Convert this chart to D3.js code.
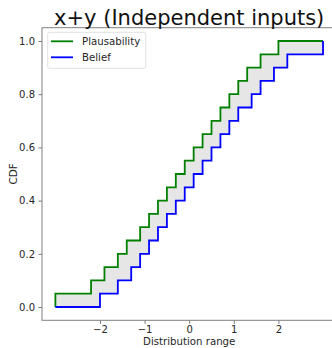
<!DOCTYPE html>
<html>
<head>
<meta charset="utf-8">
<script src="https://cdn.jsdelivr.net/npm/d3@7"></script>
<style>
  body { margin: 0; background: #fff; }
  svg { display: block; font-family: "DejaVu Sans", sans-serif; }
</style>
</head>
<body>
<svg width="332" height="348"></svg>
<script>
// Step positions (x where the CDF jumps) and the level after each jump
var plausX = [-3.0, -2.2, -1.9, -1.6, -1.4, -1.1, -0.9, -0.7, -0.5, -0.3, -0.1, 0.1, 0.3, 0.5, 0.7, 0.9, 1.1, 1.3, 1.6, 2.0, 3.0];
var plausY = [0.05, 0.10, 0.15, 0.20, 0.25, 0.30, 0.35, 0.40, 0.45, 0.50, 0.55, 0.60, 0.65, 0.70, 0.75, 0.80, 0.85, 0.90, 0.95, 1.00, 1.00];
var beliefX = [-2.0, -1.6, -1.3, -1.1, -0.9, -0.7, -0.5, -0.3, -0.1, 0.1, 0.3, 0.5, 0.7, 0.9, 1.1, 1.4, 1.6, 1.9, 2.2, 3.0];
var beliefY = [0.05, 0.10, 0.15, 0.20, 0.25, 0.30, 0.35, 0.40, 0.45, 0.50, 0.55, 0.60, 0.65, 0.70, 0.75, 0.80, 0.85, 0.90, 0.95, 1.00];
var startX = -3.0;
var xTicks = [-2, -1, 0, 1, 2];
var yTicks = [0, 0.2, 0.4, 0.6, 0.8, 1.0];

var svg = d3.select('svg');

// plot area (right spine falls just outside the picture)
var plot = {l: 42, r: 336.4, t: 27.7, b: 320.3};

var x = d3.scaleLinear().domain([-3.3, 3.3]).range([plot.l, plot.r]);
var y = d3.scaleLinear().domain([-0.05, 1.05]).range([plot.b, plot.t]);

// build point lists, both start at 0 on the left edge
var plaus = [[startX, 0]].concat(plausX.map(function(d, i) { return [d, plausY[i]]; }));
var belief = [[startX, 0]].concat(beliefX.map(function(d, i) { return [d, beliefY[i]]; }));

// expand step-after corners for the fill polygon
function corners(pts) {
    var out = [pts[0]];
    for (var i = 1; i < pts.length; i++) {
        out.push([pts[i][0], pts[i - 1][1]]);
        out.push(pts[i]);
    }
    return out;
}

var lineLin = d3.line()
    .x(function(d) { return x(d[0]); })
    .y(function(d) { return y(d[1]); });

var lineStep = d3.line()
    .x(function(d) { return x(d[0]); })
    .y(function(d) { return y(d[1]); })
    .curve(d3.curveStepAfter);

var poly = corners(plaus).concat(corners(belief).reverse());

svg.append('path')
    .attr('d', lineLin(poly) + 'Z')
    .attr('fill', '#e6e6e6')
    .attr('stroke', 'none');

svg.append('path')
    .attr('d', lineStep(plaus))
    .attr('fill', 'none')
    .attr('stroke', '#008000')
    .attr('stroke-width', 1.8);

svg.append('path')
    .attr('d', lineStep(belief))
    .attr('fill', 'none')
    .attr('stroke', '#0000ff')
    .attr('stroke-width', 1.8);

// axes
var xAxis = svg.append('g')
    .attr('transform', 'translate(0,' + plot.b + ')')
    .call(d3.axisBottom(x).tickValues(xTicks).tickSize(3.5).tickPadding(3.5).tickFormat(d3.format('d')));

var yAxis = svg.append('g')
    .attr('transform', 'translate(' + plot.l + ',0)')
    .call(d3.axisLeft(y).tickValues(yTicks).tickSize(3.5).tickPadding(3.5).tickFormat(d3.format('.1f')));

[xAxis, yAxis].forEach(function(g) {
    g.select('.domain').remove();
    g.selectAll('line').attr('stroke', '#555').attr('stroke-width', 0.8);
    g.selectAll('text').attr('font-size', 10).attr('fill', '#262626')
        .attr('font-family', '"DejaVu Sans", sans-serif');
});
// x tick labels sit a bit higher than d3's default
xAxis.selectAll('text').attr('y', 12.5).attr('dy', null);

// spines
svg.append('rect')
    .attr('x', plot.l)
    .attr('y', plot.t)
    .attr('width', plot.r - plot.l)
    .attr('height', plot.b - plot.t)
    .attr('fill', 'none')
    .attr('stroke', '#808080')
    .attr('stroke-width', 1);

// labels
svg.append('text')
    .attr('x', (plot.l + plot.r) / 2)
    .attr('y', 24.5)
    .attr('text-anchor', 'middle')
    .attr('font-size', 21)
    .attr('fill', '#111')
    .text('x+y (Independent inputs)');

svg.append('text')
    .attr('x', (plot.l + plot.r) / 2)
    .attr('y', 344.6)
    .attr('text-anchor', 'middle')
    .attr('font-size', 10.2)
    .attr('fill', '#262626')
    .text('Distribution range');

svg.append('text')
    .attr('transform', 'translate(17,' + (plot.t + plot.b) / 2 + ') rotate(-90)')
    .attr('text-anchor', 'middle')
    .attr('font-size', 10.4)
    .attr('fill', '#262626')
    .text('CDF');

// legend
var legend = svg.append('g');
legend.append('rect')
    .attr('x', 47.7).attr('y', 32.3)
    .attr('width', 98).attr('height', 36)
    .attr('rx', 2)
    .attr('fill', '#fff').attr('fill-opacity', 0.8)
    .attr('stroke', '#d9d9d9').attr('stroke-width', 0.8);

var legendItems = [
    {label: 'Plausability', color: '#008000'},
    {label: 'Belief', color: '#0000ff'}
];

var item = legend.selectAll('.item')
    .data(legendItems)
    .enter()
    .append('g')
    .attr('class', 'item')
    .attr('transform', function(d, i) { return 'translate(0,' + (41.3 + i * 16) + ')'; });

item.append('line')
    .attr('x1', 51).attr('x2', 73)
    .attr('stroke', function(d) { return d.color; })
    .attr('stroke-width', 1.8);

item.append('text')
    .attr('x', 82)
    .attr('y', 3.6)
    .attr('font-size', 10.2)
    .attr('fill', '#262626')
    .text(function(d) { return d.label; });
</script>
</body>
</html>
